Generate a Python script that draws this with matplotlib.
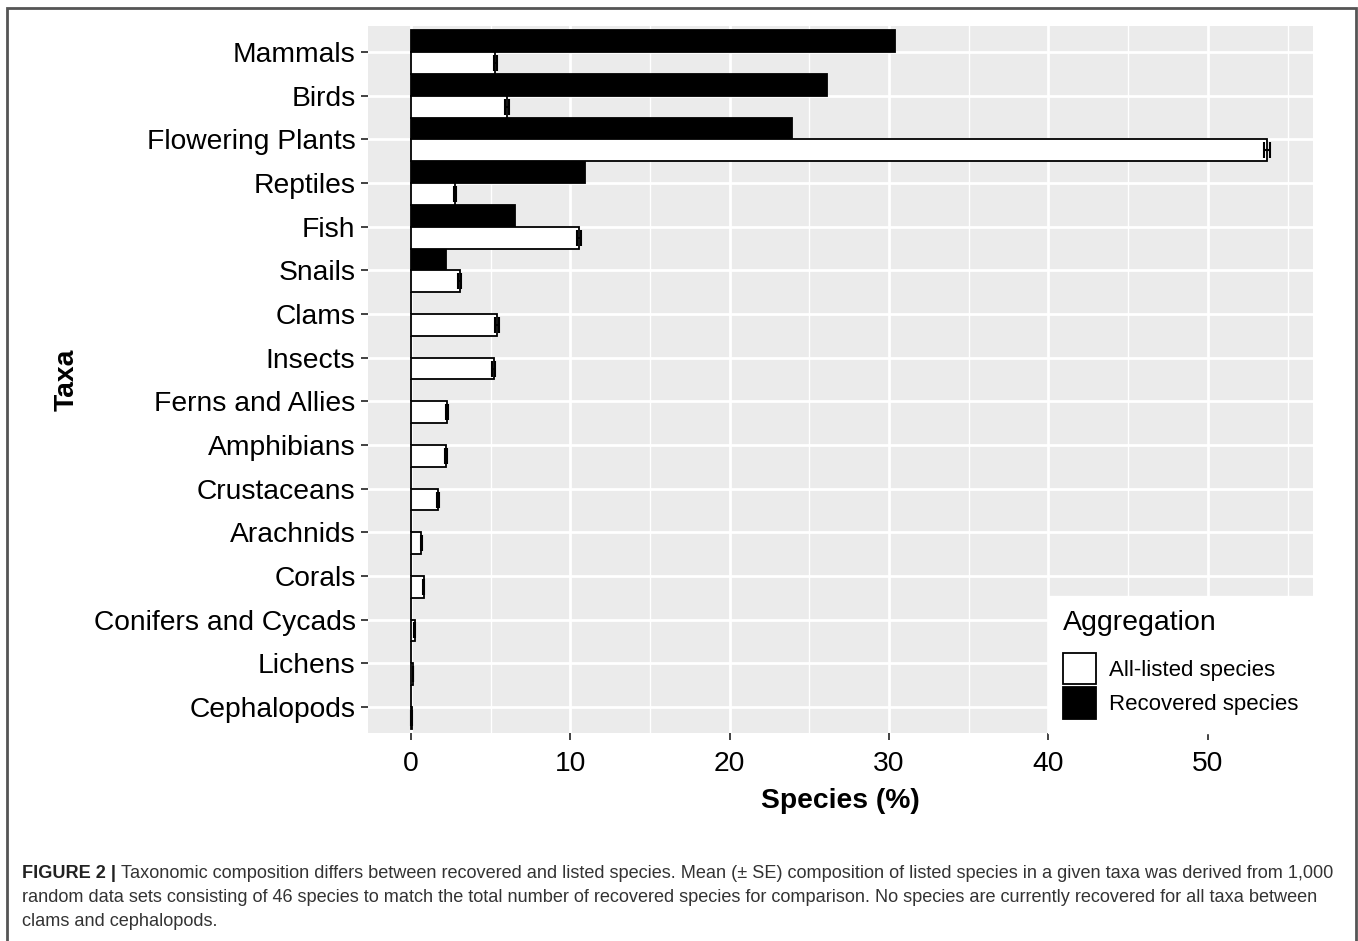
import matplotlib
matplotlib.use("Agg")
import matplotlib.pyplot as plt
import matplotlib.patches as mpatches
from matplotlib import font_manager
import numpy as np

# taxa, top to bottom
taxa = ["Mammals", "Birds", "Flowering Plants", "Reptiles", "Fish", "Snails",
        "Clams", "Insects", "Ferns and Allies", "Amphibians", "Crustaceans",
        "Arachnids", "Corals", "Conifers and Cycads", "Lichens", "Cephalopods"]

# % of the 46 recovered species
recovered = [30.4, 26.1, 23.9, 10.9, 6.5, 2.2,
             0, 0, 0, 0, 0, 0, 0, 0, 0, 0]

# mean % over random draws of listed species, and SE
all_listed = [5.3, 6.0, 53.7, 2.75, 10.55, 3.05,
              5.4, 5.2, 2.25, 2.2, 1.7, 0.65, 0.8, 0.22, 0.12, 0.03]
all_listed_se = [0.10, 0.12, 0.20, 0.08, 0.12, 0.08,
                 0.10, 0.10, 0.06, 0.06, 0.05, 0.04, 0.04, 0.02, 0.02, 0.01]

x_ticks = [0, 10, 20, 30, 40, 50]

caption_bold = "FIGURE 2 | "
caption_lines = [
    "Taxonomic composition differs between recovered and listed species. Mean (\u00b1 SE) composition of listed species in a given taxa was derived from 1,000",
    "random data sets consisting of 46 species to match the total number of recovered species for comparison. No species are currently recovered for all taxa between",
    "clams and cephalopods.",
]

plt.rcParams["font.family"] = ["Liberation Sans", "DejaVu Sans"]


def pick_font(names):
    for n in names:
        try:
            font_manager.findfont(n, fallback_to_default=False)
            return n
        except Exception:
            pass
    return "DejaVu Sans"


cap_font = pick_font(["Liberation Sans Narrow", "Liberation Sans"])

W, H = 1358, 941
fig = plt.figure(figsize=(W / 100, H / 100), dpi=100)
ax = fig.add_axes([368 / W, 1 - 733 / H, (1313 - 368) / W, (733 - 26) / H])

bg = "#EBEBEB"
ax.set_facecolor(bg)
ypos = np.arange(len(taxa))
h = 0.5

ax.barh(ypos - h / 2, recovered, height=h, color="black", edgecolor="black",
        linewidth=1.3, zorder=3, label="Recovered species")
ax.barh(ypos + h / 2, all_listed, height=h, color="white", edgecolor="black",
        linewidth=1.3, zorder=3, label="All-listed species")
ax.errorbar(all_listed, ypos + h / 2, xerr=all_listed_se, fmt="none",
            ecolor="black", elinewidth=1.5, capsize=6, capthick=1.5, zorder=4)

ax.set_xlim(-2.7, 56.6)
ax.set_ylim(len(taxa) - 0.4, -0.6)
ax.set_xticks(x_ticks)
ax.set_xticks(np.arange(5, 60, 10), minor=True)
ax.set_yticks(ypos)
ax.set_yticklabels(taxa)

ax.grid(which="major", color="white", linewidth=2.0, zorder=0)
ax.grid(which="minor", axis="x", color="white", linewidth=1.0, zorder=0)
ax.set_axisbelow(True)
for s in ax.spines.values():
    s.set_visible(False)

ax.tick_params(axis="both", which="major", labelsize=20.3, length=5, width=1.3,
               color="#333333", labelcolor="black")
ax.tick_params(axis="x", which="major", pad=8)
ax.tick_params(axis="y", which="major", pad=4)
ax.tick_params(axis="x", which="minor", length=0)

ax.set_xlabel("Species (%)", fontsize=20.3, fontweight="bold", labelpad=8)
ax.set_ylabel("Taxa", fontsize=20.3, fontweight="bold", labelpad=10)

handles = [mpatches.Patch(facecolor="white", edgecolor="black", linewidth=1.3),
           mpatches.Patch(facecolor="black", edgecolor="black", linewidth=1.3)]
leg = ax.legend(handles, ["All-listed species", "Recovered species"],
                title="Aggregation", loc="lower right", bbox_to_anchor=(1, 0),
                borderaxespad=0, fontsize=16, title_fontsize=20.5,
                frameon=True, fancybox=False, framealpha=1,
                handlelength=1.5, handleheight=1.8, handletextpad=0.6,
                labelspacing=0.12, borderpad=0.65, alignment="left")
leg._legend_box.sep = 12
leg.get_frame().set_edgecolor("white")
leg.get_frame().set_facecolor("white")

# outer frame around figure and caption
frame = mpatches.Rectangle((7 / W, -0.05), (1356 - 7) / W, 1 - 8 / H + 0.05,
                           transform=fig.transFigure, fill=False,
                           edgecolor="#555555", linewidth=2, clip_on=False)
fig.add_artist(frame)

# caption with bold lead-in
fig.canvas.draw()
r = fig.canvas.get_renderer()
cap_color = "#333333"
cap_size = 13.1
x0 = 22 / W
y_lines = [1 - 873 / H, 1 - 898 / H, 1 - 922 / H]
tb = fig.text(x0, y_lines[0], caption_bold, fontsize=cap_size, fontweight="bold",
              family=cap_font, color="#222222", va="center", ha="left")
bb = tb.get_window_extent(renderer=r)
fig.text(bb.x1 / W, y_lines[0], caption_lines[0], fontsize=cap_size,
         family=cap_font, color=cap_color, va="center", ha="left")
for yl, line in zip(y_lines[1:], caption_lines[1:]):
    fig.text(x0, yl, line, fontsize=cap_size, family=cap_font, color=cap_color,
             va="center", ha="left")

fig.savefig("out.png", dpi=100)
